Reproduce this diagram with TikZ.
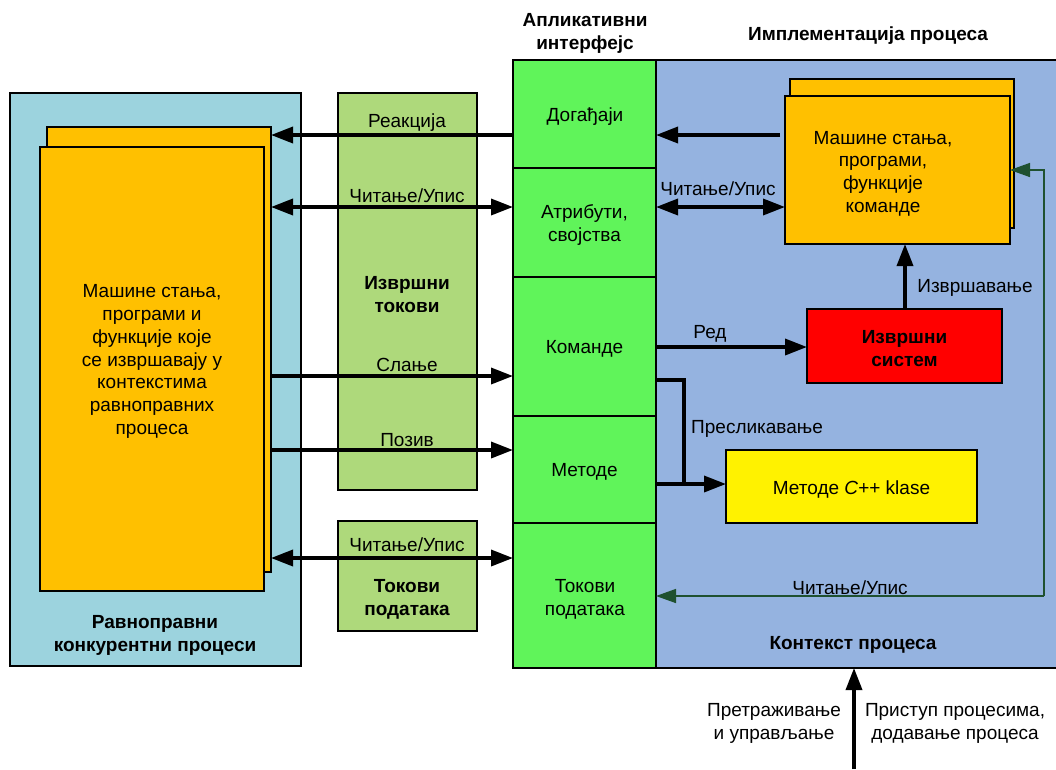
\documentclass[tikz,border=0pt]{standalone}
\usepackage{fontspec}
\setmainfont{Liberation Sans}
\usetikzlibrary{arrows.meta}
\definecolor{panelblue}{HTML}{9CD3DE}
\definecolor{cardorange}{HTML}{FFC000}
\definecolor{flowgreen}{HTML}{AED97B}
\definecolor{apigreen}{HTML}{60F45A}
\definecolor{implblue}{HTML}{95B3E0}
\definecolor{darkgreen}{HTML}{1F5130}
\tikzset{
  box/.style={draw=black, line width=2.5pt, anchor=north west, inner sep=0pt, outer sep=0pt},
  txt/.style={inner sep=0pt, yshift=-2.5pt, align=center, font=\fontsize{19}{22.7}\selectfont},
  btxt/.style={inner sep=0pt, yshift=-2.5pt, align=center, font=\fontsize{19}{22.7}\selectfont\bfseries},
  flow/.style={line width=3.5pt, -{Triangle[length=22pt,width=16pt]}},
  bflow/.style={line width=3.5pt, {Triangle[length=22pt,width=16pt]}-{Triangle[length=22pt,width=16pt]}},
  thinflow/.style={draw=darkgreen, line width=1.5pt, -{Triangle[length=20pt,width=14pt]}},
}
\begin{document}
\begin{tikzpicture}[x=1pt,y=-1pt]
\useasboundingbox (0,0) rectangle (1056,769);

% left panel: peer processes
\node[box, fill=panelblue, minimum width=291pt, minimum height=573pt] (peer) at (10,93) {};
\node[box, fill=cardorange, minimum width=224pt, minimum height=445pt] (peerback) at (47,127) {};
\node[box, fill=cardorange, minimum width=224pt, minimum height=444pt] (peerfront) at (40,147) {};
\node[txt] (peertext) at (152,359) {Машине стања,\\програми и\\функције које\\се извршавају у\\контекстима\\равноправних\\процеса};
\node[btxt] (peerlabel) at (155,633) {Равноправни\\конкурентни процеси};

% middle: flows
\node[box, fill=flowgreen, minimum width=139pt, minimum height=397pt] (exflows) at (338,93) {};
\node[box, fill=flowgreen, minimum width=139pt, minimum height=110pt] (dataflows) at (338,521) {};
\node[btxt] (exflowslabel) at (407,292) {Извршни\\токови};
\node[btxt] (dataflowslabel) at (407,597) {Токови\\података};

% implementation panel
\node[box, fill=implblue, minimum width=410pt, minimum height=608pt] (impl) at (656,60) {};
\node[btxt] (impltitle) at (868,33) {Имплементација процеса};
\node[btxt] (ctxlabel) at (853,642) {Контекст процеса};

% application interface column
\node[box, fill=apigreen, minimum width=143pt, minimum height=108pt] (events) at (513,60) {};
\node[box, fill=apigreen, minimum width=143pt, minimum height=109pt] (attrs) at (513,168) {};
\node[box, fill=apigreen, minimum width=143pt, minimum height=139pt] (cmds) at (513,277) {};
\node[box, fill=apigreen, minimum width=143pt, minimum height=107pt] (methods) at (513,416) {};
\node[box, fill=apigreen, minimum width=143pt, minimum height=145pt] (streams) at (513,523) {};
\node[btxt] (apititle) at (585,31) {Апликативни\\интерфејс};
\node[txt] at (585,114) {Догађаји};
\node[txt] at (attrs.center) {Атрибути,\\својства};
\node[txt] at (cmds.center) {Команде};
\node[txt] at (methods.center) {Методе};
\node[txt] at (585,597) {Токови\\података};

% implementation contents
\node[box, fill=cardorange, minimum width=224pt, minimum height=149pt] (smback) at (790,79) {};
\node[box, fill=cardorange, minimum width=225pt, minimum height=148pt] (smfront) at (785,96) {};
\node[txt] at (883,171) {Машине стања,\\програми,\\функције\\команде};
\node[box, fill=red, minimum width=195pt, minimum height=74pt] (exsys) at (807,309) {};
\node[btxt] at (exsys.center) {Извршни\\систем};
\node[box, fill=yellow, minimum width=251pt, minimum height=73pt] (cppcls) at (726,450) {};
\node[txt] at (cppcls.center) {Методе \textit{C}++ klase};

% anchor points for connectors
\coordinate (reactL) at (271,135);
\coordinate (reactR) at (513,135);
\coordinate (rwL) at (271,207);
\coordinate (rwR) at (513,207);
\coordinate (sendL) at (272,376);
\coordinate (sendR) at (513,376);
\coordinate (callL) at (272,450);
\coordinate (callR) at (513,450);
\coordinate (drwL) at (271,558);
\coordinate (drwR) at (513,558);
\coordinate (evtOut) at (780,135);
\coordinate (evtIn) at (656,135);
\coordinate (attrOut) at (656,207);
\coordinate (attrIn) at (785,207);
\coordinate (qOut) at (656,347);
\coordinate (qIn) at (807,347);
\coordinate (exTop) at (905,309);
\coordinate (smBottom) at (905,244);
\coordinate (mapA) at (656,380);
\coordinate (mapB) at (656,484);
\coordinate (mapJ) at (684,484);
\coordinate (mapIn) at (726,484);
\coordinate (ctxIn) at (656,596);
\coordinate (ctxCorner) at (1044,596);
\coordinate (smIn) at (1010,170);
\coordinate (accessFrom) at (854,769);
\coordinate (accessTo) at (854,668);

% connectors between peer processes and the interface
\draw[flow] (reactR) -- (reactL);
\draw[bflow] (rwL) -- (rwR);
\draw[flow] (sendL) -- (sendR);
\draw[flow] (callL) -- (callR);
\draw[bflow] (drwL) -- (drwR);
\node[txt] at (407,120) {Реакција};
\node[txt] at (407,193) {Читање/Упис};
\node[txt] at (407,362) {Слање};
\node[txt] at (407,438) {Позив};
\node[txt] at (407,542) {Читање/Упис};

% connectors inside the implementation
\draw[flow] (evtOut) -- (evtIn);
\draw[bflow] (attrOut) -- (attrIn);
\node[txt] at (718,186) {Читање/Упис};
\draw[flow] (qOut) -- (qIn);
\node[txt] at (710,331) {Ред};
\draw[flow] (exTop) -- (smBottom);
\node[txt] at (975,285) {Извршавање};
\draw[line width=3.5pt] (mapA) -| (mapJ);
\draw[line width=3.5pt] (mapB) -- (mapJ);
\draw[flow] (mapJ) -- (mapIn);
\node[txt, anchor=west] at (691,426) {Пресликавање};
\draw[thinflow] (ctxCorner) -- (ctxIn);
\draw[thinflow] (ctxCorner) |- (smIn);
\node[txt] at (850,585) {Читање/Упис};

% access from outside
\draw[flow] (accessFrom) -- (accessTo);
\node[txt] at (774,721) {Претраживање\\и управљање};
\node[txt] at (955,721) {Приступ процесима,\\додавање процеса};
\end{tikzpicture}
\end{document}
